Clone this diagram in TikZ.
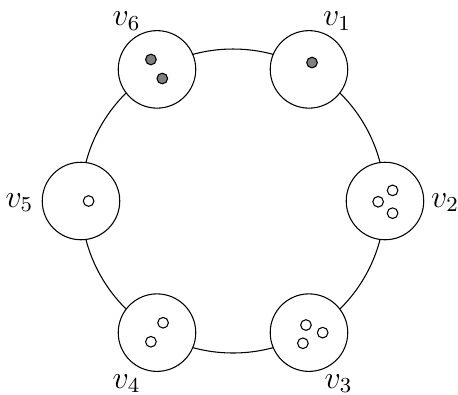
\documentclass[tikz,border=0pt]{standalone}
\usepackage{tikz}
\begin{document}
\begin{tikzpicture}[
  vertex/.style={circle, draw, fill=white, minimum size=1.02cm, inner sep=0pt},
  token/.style={circle, draw, minimum size=0.14cm, inner sep=0pt},
  full/.style={token, fill=gray},
  empty/.style={token, fill=white},
  lbl/.style={font=\large, inner sep=0pt}
]
  \useasboundingbox (-3.066,-2.54) rectangle (2.961,2.645);
  \draw (0,0) circle (2cm);

  % places on the ring
  \foreach \i/\a in {1/60,2/0,3/-60,4/-120,5/180,6/120}{
    \node[vertex] (v\i) at (\a:2) {};
  }

  % names of the places
  \foreach \i/\dx/\dy in {1/0.37/0.64,2/0.79/-0.02,3/0.39/-0.67,4/-0.40/-0.67,5/-0.81/-0.02,6/-0.40/0.64}{
    \node[lbl] (l\i) at ([shift={(\dx,\dy)}]v\i) {$v_\i$};
  }

  % tokens
  \node[full] (t1) at ([shift={(0.04,0.09)}]v1) {};
  \node[empty] (t2a) at ([shift={(-0.09,-0.01)}]v2) {};
  \node[empty] (t2b) at ([shift={(0.1,0.14)}]v2) {};
  \node[empty] (t2c) at ([shift={(0.1,-0.16)}]v2) {};
  \node[empty] (t3a) at ([shift={(-0.04,0.1)}]v3) {};
  \node[empty] (t3b) at ([shift={(0.18,0)}]v3) {};
  \node[empty] (t3c) at ([shift={(-0.08,-0.14)}]v3) {};
  \node[empty] (t4a) at ([shift={(0.08,0.13)}]v4) {};
  \node[empty] (t4b) at ([shift={(-0.08,-0.12)}]v4) {};
  \node[empty] (t5) at ([shift={(0.1,0)}]v5) {};
  \node[full] (t6a) at ([shift={(-0.08,0.13)}]v6) {};
  \node[full] (t6b) at ([shift={(0.07,-0.12)}]v6) {};
\end{tikzpicture}
\end{document}
